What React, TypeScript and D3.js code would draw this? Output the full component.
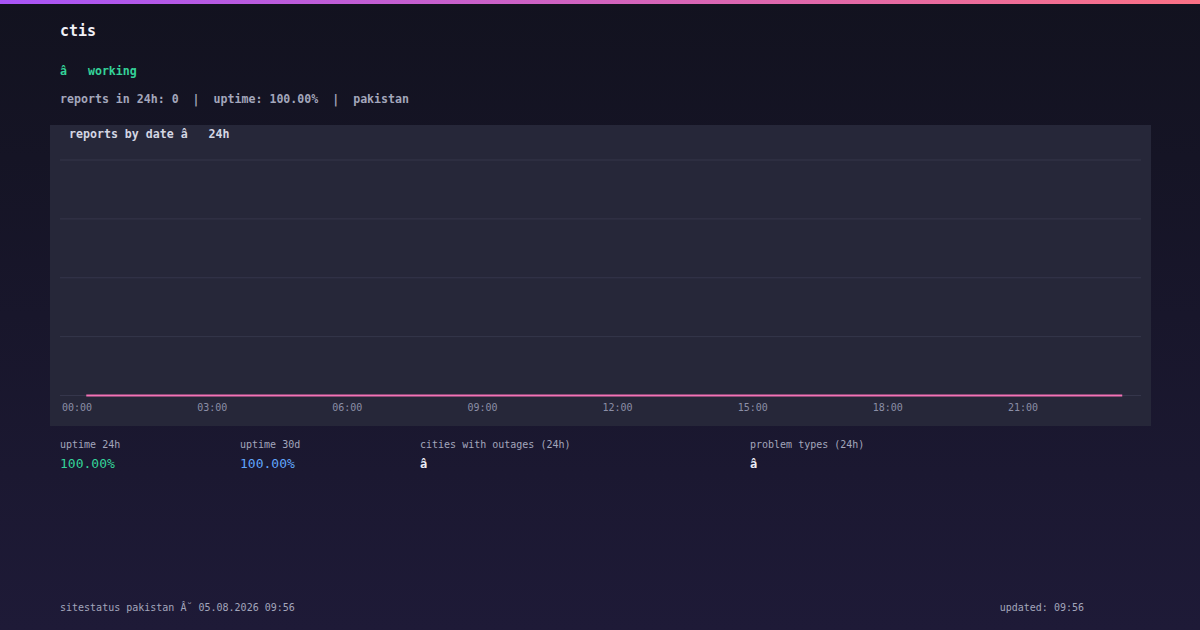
import { useEffect, useRef } from 'react';
import * as d3 from 'd3';

// reports per hour bucket (last 24h)
const bucketTimes = [
  '00:35', '01:35', '02:35', '03:35', '04:35', '05:35', '06:35', '07:35',
  '08:35', '09:35', '10:35', '11:35', '12:35', '13:35', '14:35', '15:35',
  '16:35', '17:35', '18:35', '19:35', '20:35', '21:35', '22:35', '23:35',
];
const reportCounts = [
  0, 0, 0, 0, 0, 0, 0, 0, 0, 0, 0, 0,
  0, 0, 0, 0, 0, 0, 0, 0, 0, 0, 0, 0,
];
const yTicks = [0, 1, 2, 3, 4];

const stats = [
  { label: 'uptime 24h', value: '100.00%', color: '#34d399', x: 60 },
  { label: 'uptime 30d', value: '100.00%', color: '#60a5fa', x: 240 },
  { label: 'cities with outages (24h)', value: 'â', color: '#eceef6', x: 420 },
  { label: 'problem types (24h)', value: 'â', color: '#eceef6', x: 750 },
];

const MONO = '"DejaVu Sans Mono", "Liberation Mono", monospace';

export default function App() {
  const svgRef = useRef<SVGSVGElement>(null);

  useEffect(() => {
    if (!svgRef.current) return;
    document.body.style.margin = '0';

    const width = 1200;
    const height = 630;
    const plot = { left: 60, right: 1141, top: 160, bottom: 395.5 };

    d3.select(svgRef.current).selectAll('*').remove();
    const svg = d3.select(svgRef.current).attr('width', width).attr('height', height);

    // background
    const defs = svg.append('defs');
    const bg = defs.append('linearGradient').attr('id', 'bg').attr('x1', 0).attr('y1', 0).attr('x2', 0).attr('y2', 1);
    bg.append('stop').attr('offset', '0%').attr('stop-color', '#12121f');
    bg.append('stop').attr('offset', '100%').attr('stop-color', '#1e1a37');
    const bar = defs.append('linearGradient').attr('id', 'bar').attr('x1', 0).attr('y1', 0).attr('x2', 1).attr('y2', 0);
    bar.append('stop').attr('offset', '0%').attr('stop-color', '#a855f7');
    bar.append('stop').attr('offset', '100%').attr('stop-color', '#fb7185');

    svg.append('rect').attr('width', width).attr('height', height).attr('fill', 'url(#bg)');
    svg.append('rect').attr('width', width).attr('height', 4).attr('fill', 'url(#bar)');

    // header
    svg.append('text')
      .attr('x', 60).attr('y', 36)
      .style('font-family', MONO).style('font-size', '15px').style('font-weight', 'bold')
      .style('fill', '#f1f1f6')
      .text('ctis');

    svg.append('text')
      .attr('x', 60).attr('y', 75)
      .style('font-family', MONO).style('font-size', '11.6px').style('font-weight', 'bold')
      .style('fill', '#34d399')
      .style('white-space', 'pre')
      .text('â   working');

    svg.append('text')
      .attr('x', 60).attr('y', 103)
      .style('font-family', MONO).style('font-size', '11.6px').style('font-weight', 'bold')
      .style('fill', '#a3a6bb')
      .style('white-space', 'pre')
      .text('reports in 24h: 0  |  uptime: 100.00%  |  pakistan');

    // chart panel
    svg.append('rect')
      .attr('x', 50).attr('y', 125).attr('width', 1101).attr('height', 301)
      .attr('fill', '#262739');

    svg.append('text')
      .attr('x', 69).attr('y', 138)
      .style('font-family', MONO).style('font-size', '11.6px').style('font-weight', 'bold')
      .style('fill', '#d4d6e3')
      .style('white-space', 'pre')
      .text('reports by date â   24h');

    const parse = d3.timeParse('%H:%M');
    const data = bucketTimes.map((t, i) => ({ time: parse(t) as Date, count: reportCounts[i] }));
    const day0 = parse('00:00') as Date;
    const day1 = d3.timeDay.offset(day0, 1);

    const xScale = d3.scaleTime().domain([day0, day1]).range([plot.left, plot.right]);
    const yScale = d3.scaleLinear().domain([0, 4]).range([plot.bottom, plot.top]);

    // grid
    svg.append('g')
      .selectAll('line')
      .data(yTicks)
      .enter()
      .append('line')
      .attr('x1', plot.left).attr('x2', plot.right)
      .attr('y1', (d) => yScale(d)).attr('y2', (d) => yScale(d))
      .attr('stroke', '#35364b')
      .attr('stroke-width', 1);

    // x labels
    const xTicks = xScale.ticks(d3.timeHour.every(3)!).filter((d) => d < day1);
    svg.append('g')
      .selectAll('text')
      .data(xTicks)
      .enter()
      .append('text')
      .attr('x', (d) => xScale(d) + 2)
      .attr('y', 411)
      .style('font-family', MONO).style('font-size', '10px')
      .style('fill', '#8b8ea6')
      .text((d) => d3.timeFormat('%H:%M')(d));

    // line
    const line = d3.line<{ time: Date; count: number }>()
      .x((d) => xScale(d.time))
      .y((d) => yScale(d.count));

    svg.append('path')
      .datum(data)
      .attr('d', line)
      .attr('fill', 'none')
      .attr('stroke', '#f472b6')
      .attr('stroke-width', 2);

    // stats row
    const st = svg.append('g').selectAll('g').data(stats).enter().append('g');
    st.append('text')
      .attr('x', (d) => d.x).attr('y', 447.5)
      .style('font-family', MONO).style('font-size', '10px')
      .style('fill', '#a3a6bb')
      .text((d) => d.label);
    st.append('text')
      .attr('x', (d) => d.x).attr('y', 468)
      .style('font-family', MONO)
      .style('font-size', (d) => (d.value === 'â' ? '12px' : '13px'))
      .style('font-weight', (d) => (d.value === 'â' ? 'bold' : 'normal'))
      .style('fill', (d) => d.color)
      .text((d) => d.value);

    // footer
    svg.append('text')
      .attr('x', 60).attr('y', 610.5)
      .style('font-family', MONO).style('font-size', '10px')
      .style('fill', '#a3a6bb')
      .text('sitestatus pakistan Â˘ 05.08.2026 09:56');

    svg.append('text')
      .attr('x', 1084).attr('y', 610.5)
      .attr('text-anchor', 'end')
      .style('font-family', MONO).style('font-size', '10px')
      .style('fill', '#a3a6bb')
      .text('updated: 09:56');
  }, []);

  return <svg ref={svgRef} style={{ display: 'block' }} />;
}
